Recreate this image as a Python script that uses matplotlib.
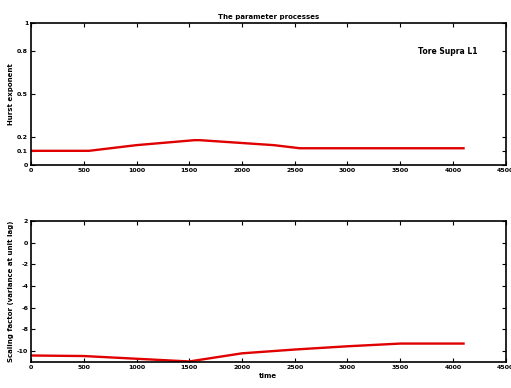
import matplotlib
matplotlib.use("Agg")
import matplotlib.pyplot as plt

# Hurst exponent process
t_hurst = [0, 550, 1000, 1550, 1600, 2000, 2300, 2550, 4100]
hurst = [0.1, 0.1, 0.14, 0.175, 0.175, 0.155, 0.14, 0.118, 0.118]

# Scaling factor process
t_scale = [0, 500, 1000, 1500, 2000, 2500, 3000, 3500, 4100]
scale = [-10.4, -10.45, -10.7, -10.95, -10.2, -9.85, -9.55, -9.3, -9.3]

x_ticks = [0, 500, 1000, 1500, 2000, 2500, 3000, 3500, 4000, 4500]
hurst_ticks = [0, 0.1, 0.2, 0.5, 0.8, 1]
scale_ticks = [-10, -8, -6, -4, -2, 0, 2]

plt.rcParams["font.family"] = "DejaVu Sans"
plt.rcParams["font.weight"] = "bold"
plt.rcParams["font.size"] = 5
plt.rcParams["axes.unicode_minus"] = False

fig = plt.figure(figsize=(5.11, 3.88), dpi=100)
ax1 = fig.add_axes([0.0607, 0.5747, 0.929, 0.366])
ax2 = fig.add_axes([0.0607, 0.067, 0.929, 0.3634])

ax1.plot(t_hurst, hurst, color="#e00000", linewidth=1.7)
ax1.set_xlim(0, 4500)
ax1.set_ylim(0, 1)
ax1.set_xticks(x_ticks)
ax1.set_yticks(hurst_ticks)
ax1.set_yticklabels(["0", "0.1", "0.2", "0.5", "0.8", "1"])
ax1.set_ylabel("Hurst exponent", fontsize=5, fontweight="bold", labelpad=2)
ax1.set_title("The parameter processes", fontsize=5, fontweight="bold", pad=3)
ax1.text(3950, 0.8, "Tore Supra L1", fontsize=5.5, fontweight="bold",
         ha="center", va="center")

ax2.plot(t_scale, scale, color="#e00000", linewidth=1.7)
ax2.set_xlim(0, 4500)
ax2.set_ylim(-11, 2)
ax2.set_xticks(x_ticks)
ax2.set_yticks(scale_ticks)
ax2.set_ylabel("Scaling factor (variance at unit lag)", fontsize=5,
               fontweight="bold", labelpad=2)
ax2.set_xlabel("time", fontsize=5, fontweight="bold", labelpad=2)

for ax in (ax1, ax2):
    ax.tick_params(direction="in", top=True, right=True, length=3,
                   width=0.8, labelsize=4.5, pad=2)
    for sp in ax.spines.values():
        sp.set_linewidth(1.2)

fig.savefig("out.png", dpi=100)
